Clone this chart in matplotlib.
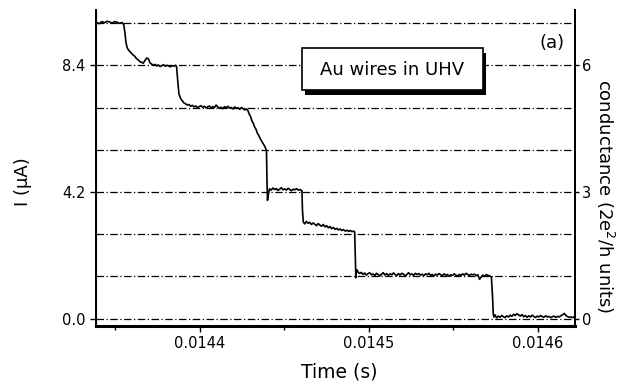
import matplotlib.pyplot as plt
from matplotlib.patches import FancyBboxPatch

plt.rcParams['font.family'] = ['DejaVu Sans']

# conductance trace of a breaking Au contact (time in s, current in uA)
time_s = [
    0.0143390, 0.0143405, 0.0143420, 0.0143435, 0.0143450, 0.0143465, 0.0143480,
    0.0143495, 0.0143510, 0.0143525, 0.0143540, 0.0143550, 0.0143557, 0.0143563,
    0.0143570, 0.0143576, 0.0143585, 0.0143595, 0.0143605, 0.0143615, 0.0143625,
    0.0143635, 0.0143645, 0.0143655, 0.0143665, 0.0143675, 0.0143685, 0.0143695,
    0.0143705, 0.0143715, 0.0143725, 0.0143735, 0.0143745, 0.0143755, 0.0143765,
    0.0143775, 0.0143785, 0.0143795, 0.0143805, 0.0143815, 0.0143825, 0.0143835,
    0.0143845, 0.0143855, 0.0143862, 0.0143868, 0.0143876, 0.0143886, 0.0143896,
    0.0143906, 0.0143916, 0.0143926, 0.0143936, 0.0143946, 0.0143956, 0.0143966,
    0.0143976, 0.0143986, 0.0143996, 0.0144006, 0.0144016, 0.0144026, 0.0144036,
    0.0144046, 0.0144056, 0.0144066, 0.0144076, 0.0144086, 0.0144096, 0.0144106,
    0.0144116, 0.0144126, 0.0144136, 0.0144146, 0.0144156, 0.0144166, 0.0144176,
    0.0144186, 0.0144196, 0.0144206, 0.0144216, 0.0144226, 0.0144236, 0.0144246,
    0.0144256, 0.0144266, 0.0144276, 0.0144284, 0.0144292, 0.0144300, 0.0144308,
    0.0144316, 0.0144324, 0.0144332, 0.0144340, 0.0144348, 0.0144356, 0.0144364,
    0.0144372, 0.0144380, 0.0144388, 0.0144394, 0.0144397, 0.0144400, 0.0144405,
    0.0144412, 0.0144422, 0.0144432, 0.0144442, 0.0144452, 0.0144462, 0.0144472,
    0.0144482, 0.0144492, 0.0144502, 0.0144512, 0.0144522, 0.0144532, 0.0144542,
    0.0144552, 0.0144562, 0.0144572, 0.0144582, 0.0144592, 0.0144600, 0.0144604,
    0.0144607, 0.0144612, 0.0144620, 0.0144630, 0.0144640, 0.0144650, 0.0144660,
    0.0144670, 0.0144680, 0.0144690, 0.0144700, 0.0144710, 0.0144720, 0.0144730,
    0.0144740, 0.0144750, 0.0144760, 0.0144770, 0.0144780, 0.0144790, 0.0144800,
    0.0144810, 0.0144820, 0.0144830, 0.0144840, 0.0144850, 0.0144860, 0.0144870,
    0.0144880, 0.0144890, 0.0144900, 0.0144910, 0.0144916, 0.0144919, 0.0144923,
    0.0144928, 0.0144935, 0.0144945, 0.0144955, 0.0144965, 0.0144975, 0.0144985,
    0.0144995, 0.0145005, 0.0145015, 0.0145025, 0.0145035, 0.0145045, 0.0145055,
    0.0145065, 0.0145075, 0.0145085, 0.0145095, 0.0145105, 0.0145115, 0.0145125,
    0.0145135, 0.0145145, 0.0145155, 0.0145165, 0.0145175, 0.0145185, 0.0145195,
    0.0145205, 0.0145215, 0.0145225, 0.0145235, 0.0145245, 0.0145255, 0.0145265,
    0.0145275, 0.0145285, 0.0145295, 0.0145305, 0.0145315, 0.0145325, 0.0145335,
    0.0145345, 0.0145355, 0.0145365, 0.0145375, 0.0145385, 0.0145395, 0.0145405,
    0.0145415, 0.0145425, 0.0145435, 0.0145445, 0.0145455, 0.0145465, 0.0145475,
    0.0145485, 0.0145495, 0.0145505, 0.0145515, 0.0145525, 0.0145535, 0.0145545,
    0.0145555, 0.0145565, 0.0145575, 0.0145585, 0.0145595, 0.0145605, 0.0145615,
    0.0145625, 0.0145635, 0.0145645, 0.0145655, 0.0145665, 0.0145675, 0.0145685,
    0.0145695, 0.0145705, 0.0145715, 0.0145725, 0.0145732, 0.0145736, 0.0145740,
    0.0145746, 0.0145756, 0.0145766, 0.0145776, 0.0145786, 0.0145796, 0.0145806,
    0.0145816, 0.0145826, 0.0145836, 0.0145846, 0.0145856, 0.0145866, 0.0145876,
    0.0145886, 0.0145896, 0.0145906, 0.0145916, 0.0145926, 0.0145936, 0.0145946,
    0.0145956, 0.0145966, 0.0145976, 0.0145986, 0.0145996, 0.0146006, 0.0146016,
    0.0146026, 0.0146036, 0.0146046, 0.0146056, 0.0146066, 0.0146076, 0.0146086,
    0.0146096, 0.0146106, 0.0146116, 0.0146126, 0.0146136, 0.0146146, 0.0146156,
    0.0146166, 0.0146176, 0.0146186, 0.0146196, 0.0146206, 0.0146216,
]
current_uA = [
    9.82, 9.78, 9.85, 9.81, 9.86, 9.84, 9.80,
    9.85, 9.83, 9.79, 9.82, 9.74, 9.45, 9.15,
    8.98, 8.92, 8.86, 8.80, 8.74, 8.70, 8.62,
    8.58, 8.52, 8.50, 8.47, 8.56, 8.64, 8.62,
    8.48, 8.44, 8.40, 8.43, 8.38, 8.41, 8.36,
    8.39, 8.42, 8.37, 8.40, 8.38, 8.35, 8.39,
    8.37, 8.40, 8.36, 7.95, 7.45, 7.30, 7.22,
    7.15, 7.12, 7.08, 7.10, 7.04, 7.07, 7.02,
    7.05, 7.00, 7.03, 7.06, 7.01, 7.04, 6.99,
    7.02, 7.05, 6.98, 7.03, 7.00, 7.08, 7.02,
    6.97, 7.01, 6.96, 7.03, 6.99, 7.04, 6.98,
    7.00, 6.95, 7.02, 6.97, 6.99, 6.94, 7.00,
    6.96, 6.92, 6.95, 6.90, 6.78, 6.70, 6.55,
    6.48, 6.35, 6.28, 6.15, 6.08, 5.98, 5.90,
    5.82, 5.75, 5.66, 5.58, 4.60, 3.92, 4.10,
    4.30, 4.26, 4.33, 4.28, 4.31, 4.25, 4.29,
    4.34, 4.27, 4.30, 4.26, 4.32, 4.28, 4.24,
    4.29, 4.27, 4.31, 4.26, 4.28, 4.25, 4.24,
    3.60, 3.20, 3.14, 3.22, 3.16, 3.19, 3.12,
    3.17, 3.13, 3.08, 3.15, 3.10, 3.06, 3.12,
    3.04, 3.08, 3.01, 3.05, 2.98, 3.02, 2.96,
    2.99, 2.94, 2.97, 2.92, 2.95, 2.90, 2.93,
    2.89, 2.92, 2.88, 2.90, 2.87, 2.20, 1.35,
    1.62, 1.55, 1.49, 1.53, 1.46, 1.51, 1.44,
    1.49, 1.52, 1.45, 1.48, 1.42, 1.50, 1.46,
    1.41, 1.47, 1.52, 1.44, 1.49, 1.43, 1.48,
    1.45, 1.51, 1.46, 1.42, 1.49, 1.44, 1.50,
    1.47, 1.41, 1.46, 1.52, 1.45, 1.48, 1.43,
    1.50, 1.46, 1.49, 1.44, 1.47, 1.42, 1.48,
    1.45, 1.50, 1.43, 1.46, 1.41, 1.47, 1.44,
    1.49, 1.45, 1.42, 1.48, 1.44, 1.46, 1.40,
    1.45, 1.43, 1.48, 1.44, 1.41, 1.46, 1.43,
    1.48, 1.44, 1.50, 1.46, 1.43, 1.47, 1.45,
    1.47, 1.42, 1.45, 1.30, 1.38, 1.44, 1.40,
    1.46, 1.43, 1.41, 1.38, 0.70, 0.15, 0.05,
    0.12, 0.02, 0.08, 0.04, 0.10, 0.06, 0.03,
    0.09, 0.05, 0.11, 0.07, 0.14, 0.10, 0.16,
    0.12, 0.08, 0.13, 0.06, 0.10, 0.04, 0.09,
    0.05, 0.11, 0.07, 0.03, 0.08, 0.05, 0.10,
    0.06, 0.04, 0.09, 0.05, 0.07, 0.03, 0.06,
    0.08, 0.04, 0.07, 0.05, 0.09, 0.12, 0.17,
    0.10, 0.06, 0.04, 0.05, 0.03, 0.06,
]

# one conductance quantum per 1.4 uA
quantum_levels = [0.0, 1.4, 2.8, 4.2, 5.6, 7.0, 8.4, 9.8]
left_ticks = [0.0, 4.2, 8.4]
right_ticks = [0, 3, 6]
x_ticks = [0.0144, 0.0145, 0.0146]
x_minor = [0.01435, 0.01445, 0.01455]
uA_per_quantum = 1.4

fig = plt.figure(figsize=(6.19, 3.90), dpi=100)
ax = fig.add_axes([0.155, 0.164, 0.774, 0.810])

for lvl in quantum_levels:
    ax.axhline(lvl, color='black', lw=0.9, ls=(0, (6, 2, 1, 2)), zorder=1)

ax.plot(time_s, current_uA, color='black', lw=1.2, zorder=3)

ax.set_xlim(0.0143385, 0.0146220)
ax.set_ylim(-0.25, 10.23)
ax.set_xticks(x_ticks)
ax.set_xticklabels([f'{v:.4f}' for v in x_ticks])
ax.set_xticks(x_minor, minor=True)
ax.set_yticks(left_ticks)
ax.set_yticklabels([f'{v:.1f}' for v in left_ticks])
ax.tick_params(axis='both', which='major', labelsize=10.5, length=4, width=1)
ax.tick_params(axis='x', which='minor', length=3, width=1)

ax.spines['top'].set_visible(False)
ax.spines['bottom'].set_linewidth(2.2)
ax.spines['left'].set_linewidth(1.4)
ax.spines['right'].set_linewidth(1.4)

ax.set_xlabel('Time (s)', fontsize=13.5)
ax.xaxis.set_label_coords(0.507, -0.115)
ax.set_ylabel('I (\u03bcA)', fontsize=13)
ax.yaxis.set_label_coords(-0.134, 0.456)

ax2 = ax.twinx()
ax2.set_ylim(ax.get_ylim()[0] / uA_per_quantum, ax.get_ylim()[1] / uA_per_quantum)
ax2.set_yticks(right_ticks)
ax2.set_yticklabels([str(v) for v in right_ticks])
ax2.tick_params(axis='y', labelsize=10.5, length=3, width=1, pad=2)
ax2.spines['top'].set_visible(False)
ax2.spines['right'].set_linewidth(1.4)
ax2.set_ylabel('conductance (2e$^2$/h units)', fontsize=13, rotation=-90, va='bottom')
ax2.yaxis.set_label_coords(1.040, 0.411)

# label box with drop shadow
shadow = FancyBboxPatch((0.436, 0.732), 0.378, 0.133, boxstyle='square,pad=0',
                        transform=ax.transAxes, facecolor='black', edgecolor='none', zorder=4)
box = FancyBboxPatch((0.430, 0.747), 0.378, 0.133, boxstyle='square,pad=0',
                     transform=ax.transAxes, facecolor='white', edgecolor='black',
                     lw=1.2, zorder=5)
ax.add_patch(shadow)
ax.add_patch(box)
ax.text(0.619, 0.812, 'Au wires in UHV', transform=ax.transAxes, fontsize=13,
        ha='center', va='center', zorder=6)
ax.text(0.979, 0.895, '(a)', transform=ax.transAxes, fontsize=13, ha='right', va='center')

plt.savefig('out.png', dpi=100)
